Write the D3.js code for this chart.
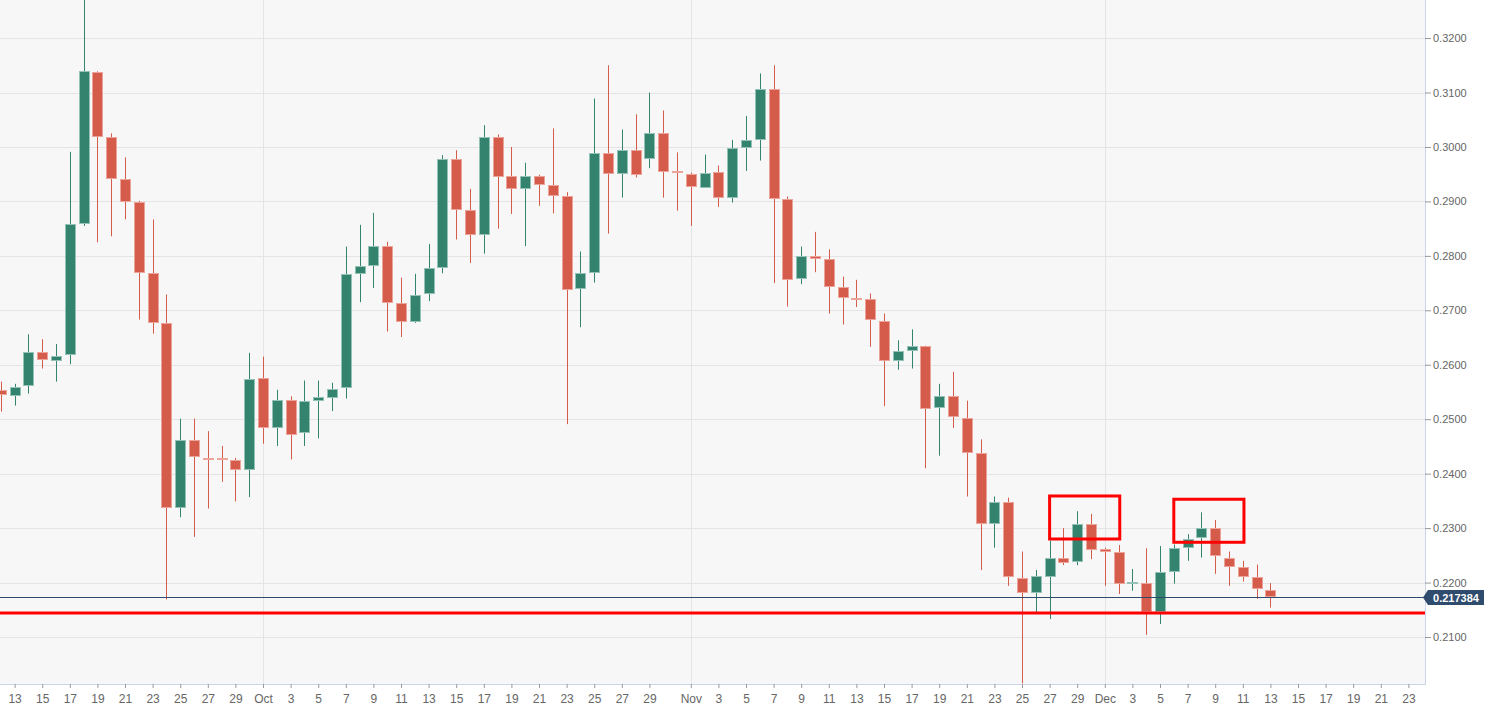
<!DOCTYPE html>
<html><head><meta charset="utf-8">
<script src="https://cdn.jsdelivr.net/npm/d3@7/dist/d3.min.js"></script>
<style>
html,body{margin:0;padding:0;background:#fff;}
svg{display:block;font-family:"Liberation Sans",Arial,sans-serif;}
</style></head>
<body>
<svg id="chart" width="1500" height="716"></svg>
<script>
// ---- data ----
const startDate = "2019-09-12";
const opens  = [0.2554,0.2544,0.2561,0.2623,0.2607,0.2617,0.2858,0.3138,0.3018,0.2941,0.2899,0.2769,0.2677,0.2338,0.2461,0.2429,0.2428,0.2426,0.2407,
  0.2576,0.2484,0.2536,0.2475,0.2533,0.2540,0.2556,0.2766,0.2781,0.2818,0.2713,0.2679,0.2729,0.2777,0.2977,0.2884,0.2839,0.3019,0.2946,0.2923,0.2947,0.2931,0.2910,0.2738,0.2768,0.2989,0.2950,0.2995,0.2978,0.3025,0.2955,
  0.2950,0.2926,0.2954,0.2907,0.2998,0.3013,0.3106,0.2904,0.2756,0.2800,0.2794,0.2743,0.2722,0.2721,0.2680,0.2607,0.2625,0.2635,0.2520,0.2542,0.2502,0.2438,0.2308,0.2348,0.2209,0.2181,0.2212,0.2246,0.2238,0.2308,
  0.2261,0.2257,0.2200,0.2200,0.2147,0.2220,0.2264,0.2281,0.2300,0.2246,0.2229,0.2210,0.2187];
const highs  = [0.2569,0.2565,0.2656,0.2647,0.2638,0.2991,0.3270,0.3139,0.3025,0.2981,0.2901,0.2867,0.2729,0.2501,0.2501,0.2478,0.2451,0.2429,0.2622,
  0.2615,0.2554,0.2542,0.2571,0.2571,0.2567,0.2817,0.2857,0.2879,0.2826,0.2760,0.2767,0.2822,0.2985,0.2994,0.2923,0.3040,0.3023,0.3000,0.2971,0.2949,0.3034,0.2917,0.2808,0.3089,0.3150,0.3032,0.3060,0.3100,0.3067,0.2990,
  0.2953,0.2986,0.2966,0.3013,0.3057,0.3135,0.3150,0.2909,0.2817,0.2844,0.2812,0.2762,0.2756,0.2731,0.2694,0.2645,0.2665,0.2635,0.2565,0.2587,0.2534,0.2463,0.2358,0.2356,0.2257,0.2223,0.2277,0.2300,0.2331,0.2326,
  0.2264,0.2269,0.2225,0.2263,0.2267,0.2270,0.2289,0.2329,0.2315,0.2257,0.2240,0.2233,0.2199];
const lows   = [0.2514,0.2525,0.2547,0.2593,0.2569,0.2601,0.2855,0.2825,0.2836,0.2867,0.2683,0.2657,0.2169,0.2320,0.2284,0.2336,0.2385,0.2349,0.2357,
  0.2455,0.2451,0.2426,0.2451,0.2465,0.2515,0.2538,0.2715,0.2741,0.2661,0.2651,0.2677,0.2717,0.2768,0.2830,0.2787,0.2804,0.2850,0.2877,0.2818,0.2892,0.2878,0.2491,0.2669,0.2751,0.2841,0.2907,0.2944,0.2961,0.2907,0.2883,
  0.2855,0.2925,0.2890,0.2898,0.2956,0.2975,0.2750,0.2707,0.2748,0.2770,0.2694,0.2674,0.2706,0.2633,0.2524,0.2591,0.2593,0.2410,0.2433,0.2484,0.2358,0.2223,0.2264,0.2194,0.2015,0.2145,0.2133,0.2232,0.2232,0.2243,
  0.2194,0.2179,0.2185,0.2104,0.2124,0.2198,0.2240,0.2246,0.2216,0.2194,0.2202,0.2170,0.2154];
const closes = [0.2545,0.2560,0.2623,0.2608,0.2617,0.2858,0.3139,0.3018,0.2941,0.2899,0.2769,0.2678,0.2337,0.2462,0.2429,0.2427,0.2426,0.2407,0.2574,
  0.2484,0.2536,0.2472,0.2533,0.2540,0.2556,0.2766,0.2781,0.2818,0.2713,0.2679,0.2729,0.2777,0.2977,0.2884,0.2839,0.3019,0.2946,0.2922,0.2946,0.2931,0.2910,0.2738,0.2768,0.2989,0.2950,0.2994,0.2950,0.3025,0.2953,0.2951,
  0.2926,0.2953,0.2907,0.2998,0.3013,0.3106,0.2904,0.2756,0.2799,0.2794,0.2743,0.2722,0.2721,0.2682,0.2607,0.2625,0.2635,0.2520,0.2542,0.2503,0.2438,0.2308,0.2348,0.2210,0.2181,0.2212,0.2246,0.2237,0.2308,0.2261,
  0.2256,0.2199,0.2201,0.2147,0.2220,0.2264,0.2280,0.2300,0.2248,0.2230,0.2211,0.2188,0.217384];
const lastPrice = 0.217384;
const supportLevel = 0.2144;
const yTicks = [0.21,0.22,0.23,0.24,0.25,0.26,0.27,0.28,0.29,0.30,0.31,0.32];
// highlight boxes: [startDate, endDate, top, bottom]
const boxes = [["2019-11-27T00:00","2019-12-02T02:00",0.2359,0.2280],
               ["2019-12-06T00:00","2019-12-11T02:00",0.2353,0.2274]];

// ---- layout ----
const W = 1425, H = 684;
const svg = d3.select("#chart");
const parse = s => new Date(s + (s.length===10 ? "T00:00:00Z" : ":00Z"));
const day = 86400000;
const d0 = parse(startDate);
const candles = opens.map((o,i)=>({date:new Date(d0.getTime()+i*day),o,h:highs[i],l:lows[i],c:closes[i]}));

const x = d3.scaleUtc()
  .domain([new Date(Date.UTC(2019,8,11,22,36)), new Date(Date.UTC(2019,11,24,4,52))])
  .range([0, W]);
const y = d3.scaleLinear().domain([0.20137, 0.32699]).range([H, 0]);

svg.append("rect").attr("x",0).attr("y",0).attr("width",W).attr("height",H).attr("fill","#f7f7f7");
svg.append("defs").append("clipPath").attr("id","clip")
  .append("rect").attr("x",0).attr("y",0).attr("width",W).attr("height",H);

// grid
const grid = svg.append("g");
grid.selectAll("line.h").data(yTicks).join("line")
  .attr("x1",0).attr("x2",W)
  .attr("y1",d=>Math.round(y(d))+0.5).attr("y2",d=>Math.round(y(d))+0.5)
  .attr("stroke","#e4e4e4").attr("stroke-width",1);
const monthStarts = [new Date(Date.UTC(2019,9,1)),new Date(Date.UTC(2019,10,1)),new Date(Date.UTC(2019,11,1))];
grid.selectAll("line.v").data(monthStarts).join("line")
  .attr("y1",0).attr("y2",H)
  .attr("x1",d=>Math.round(x(d))+0.5).attr("x2",d=>Math.round(x(d))+0.5)
  .attr("stroke","#e4e4e4").attr("stroke-width",1);

// candles
const UP = "#34836f", DN = "#d55b4a", UPs = "#95c2b6", DNs = "#eca39a";
const cg = svg.append("g").attr("clip-path","url(#clip)");
const g = cg.selectAll("g.c").data(candles).join("g");
g.append("rect")
  .attr("x",d=>Math.round(x(d.date)))
  .attr("width",1)
  .attr("y",d=>y(d.h)).attr("height",d=>Math.max(1,y(d.l)-y(d.h)))
  .attr("fill",d=>d.c>=d.o?UP:DN);
g.append("rect")
  .attr("x",d=>Math.round(x(d.date))-4.5)
  .attr("width",10)
  .attr("y",d=>Math.round(y(Math.max(d.o,d.c)))+0.5)
  .attr("height",d=>Math.max(1,Math.round(Math.abs(y(d.o)-y(d.c)))-1))
  .attr("fill",d=>d.c>=d.o?UP:DN)
  .attr("stroke",d=>d.c>=d.o?UPs:DNs).attr("stroke-width",1);

// support line
svg.append("line").attr("x1",0).attr("x2",W)
  .attr("y1",y(supportLevel)).attr("y2",y(supportLevel))
  .attr("stroke","#ff0000").attr("stroke-width",3);

// last price line
const ly = Math.round(y(lastPrice))+0.5;
svg.append("line").attr("x1",0).attr("x2",W).attr("y1",ly).attr("y2",ly)
  .attr("stroke","#2e4a6c").attr("stroke-width",1);

// boxes
svg.append("g").selectAll("rect").data(boxes).join("rect")
  .attr("x",d=>x(parse(d[0]))).attr("width",d=>x(parse(d[1]))-x(parse(d[0])))
  .attr("y",d=>y(d[2])).attr("height",d=>y(d[3])-y(d[2]))
  .attr("fill","none").attr("stroke","#ff0000").attr("stroke-width",3);

// axes lines
svg.append("line").attr("x1",W+0.5).attr("x2",W+0.5).attr("y1",0).attr("y2",H+1)
  .attr("stroke","#ccd6eb");
svg.append("line").attr("x1",0).attr("x2",W).attr("y1",H+0.5).attr("y2",H+0.5)
  .attr("stroke","#ccd6eb");

// y axis
const ya = svg.append("g").attr("transform",`translate(${W},0)`)
  .call(d3.axisRight(y).tickValues(yTicks).tickFormat(d3.format(".4f")).tickSize(6).tickPadding(2));
ya.select(".domain").remove();
ya.selectAll(".tick line").attr("stroke","#999");
ya.selectAll(".tick text").attr("fill","#666").attr("font-size","11px")
  .attr("font-family","'Liberation Sans',Arial,sans-serif");

// x axis ticks
const xTicks = [];
for (let t = new Date(Date.UTC(2019,8,13)); t <= new Date(Date.UTC(2019,11,23)); t = new Date(t.getTime()+day)) {
  const dd = t.getUTCDate();
  if (dd === 1 || (dd % 2 === 1 && dd !== 31)) xTicks.push(t);
}
const monthFmt = d3.utcFormat("%b");
const xa = svg.append("g").attr("transform",`translate(0,${H})`)
  .call(d3.axisBottom(x).tickValues(xTicks)
    .tickFormat(d=>d.getUTCDate()===1?monthFmt(d):String(d.getUTCDate()))
    .tickSize(4).tickPadding(6));
xa.select(".domain").remove();
xa.selectAll(".tick line").attr("stroke","#999");
xa.selectAll(".tick text").attr("fill","#666").attr("font-size","12px")
  .attr("font-family","'Liberation Sans Narrow','Liberation Sans',Arial,sans-serif");

// last price label
const lab = svg.append("g").attr("transform",`translate(${W-2},${ly})`);
lab.append("path").attr("d","M0,0 L5,-7.5 L61,-7.5 L61,7.5 L5,7.5 Z").attr("fill","#2f4b6d");
lab.append("text").attr("x",33).attr("y",4).attr("text-anchor","middle")
  .attr("fill","#fff").attr("font-size","11px").attr("font-weight","bold")
  .text(lastPrice.toFixed(6));
</script>
</body></html>
